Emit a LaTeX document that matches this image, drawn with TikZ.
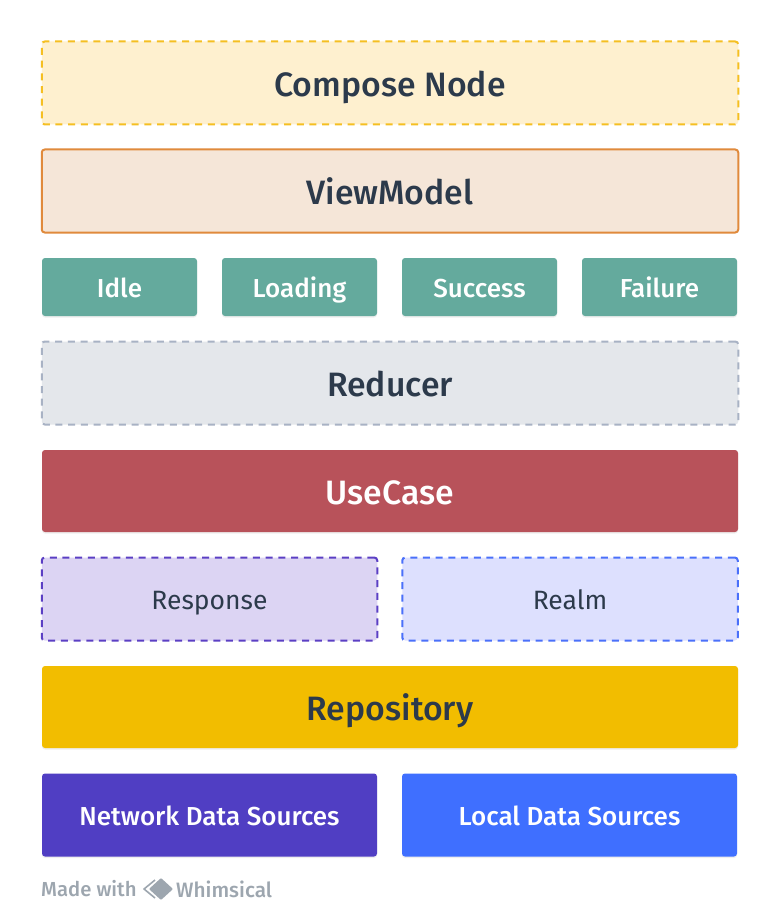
\documentclass[tikz,border=0pt]{standalone}
\usepackage{fontspec}
\setmainfont{Fira Sans Medium}
\newfontfamily\regfont{Fira Sans}
\usetikzlibrary{shadows}
\definecolor{txt}{HTML}{2C3A4B}
\definecolor{foot}{HTML}{9DA6AF}
\tikzset{
 boxbase/.style={rectangle,rounded corners=3pt,inner sep=0pt,outer sep=0pt,align=center},
 dashbox/.style={boxbase,line width=2pt,dash pattern=on 7pt off 5.7pt,text=txt},
 solidbox/.style={boxbase,drop shadow={opacity=0.13,shadow xshift=0pt,shadow yshift=-1.5pt},text=white},
 wide/.style={minimum width=#1,minimum height=83pt},
 big/.style={font=\fontsize{33.8}{36}\selectfont,text height=26.5pt,text depth=0pt},
 mid/.style={font=\fontsize{26}{30}\selectfont,text height=20.5pt,text depth=0pt},
 midreg/.style={font=\regfont\fontsize{26.5}{30}\selectfont,text height=20.5pt,text depth=0pt},
}
\begin{document}
\begin{tikzpicture}[x=1pt,y=-1pt]
\useasboundingbox[fill=white] (0,0) rectangle (780,920);
\node[dashbox,draw={rgb,255:red,245;green,191;blue,34},fill={rgb,255:red,254;green,240;blue,207},wide=696.5pt,big] (compose) at (390,83) {Compose Node};
\node[boxbase,line width=2pt,draw={rgb,255:red,224;green,138;blue,60},fill={rgb,255:red,245;green,230;blue,216},text=txt,wide=696.5pt,big] (vm) at (390,191) {ViewModel};
\foreach \n/\t/\x in {idle/Idle/119.5,loading/Loading/299.5,success/Success/479.5,failure/Failure/659.5}
 \node[solidbox,fill={rgb,255:red,100;green,170;blue,157},minimum width=155pt,minimum height=58pt,mid] (\n) at (\x,287) {\t};
\node[dashbox,draw={rgb,255:red,168;green,178;blue,196},fill={rgb,255:red,228;green,231;blue,235},wide=696.5pt,big] (reducer) at (390,383) {Reducer};
\node[solidbox,fill={rgb,255:red,184;green,82;blue,90},minimum width=696pt,minimum height=82pt,big] (usecase) at (390,491) {UseCase};
\node[dashbox,draw={rgb,255:red,91;green,63;blue,196},fill={rgb,255:red,220;green,212;blue,243},wide=335.5pt,midreg] (response) at (209.5,599) {Response};
\node[dashbox,draw={rgb,255:red,74;green,112;blue,250},fill={rgb,255:red,221;green,224;blue,254},wide=335.5pt,midreg] (realm) at (570,599) {Realm};
\node[solidbox,fill={rgb,255:red,242;green,189;blue,0},text=txt,minimum width=696pt,minimum height=82pt,big] (repo) at (390,707) {Repository};
\node[solidbox,fill={rgb,255:red,80;green,62;blue,195},minimum width=335pt,minimum height=83pt,mid] (network) at (209.5,815) {Network Data Sources};
\node[solidbox,fill={rgb,255:red,63;green,111;blue,255},minimum width=335pt,minimum height=83pt,mid] (local) at (569.5,815) {Local Data Sources};
\node[anchor=west,inner sep=0pt,text=foot,font=\fontsize{20.3}{24}\selectfont] (made) at (41,889) {Made with};
\node[anchor=west,inner sep=0pt,text=foot,font=\fontsize{20.8}{24}\selectfont] (whim) at (176,889) {Whimsical};
\draw[foot,line width=1.6pt,line join=round] (155,880) -- (144,889) -- (155,898);
\fill[foot,rounded corners=1pt] (161,878) -- (173,889) -- (161,900) -- (149,889) -- cycle;
\end{tikzpicture}
\end{document}
